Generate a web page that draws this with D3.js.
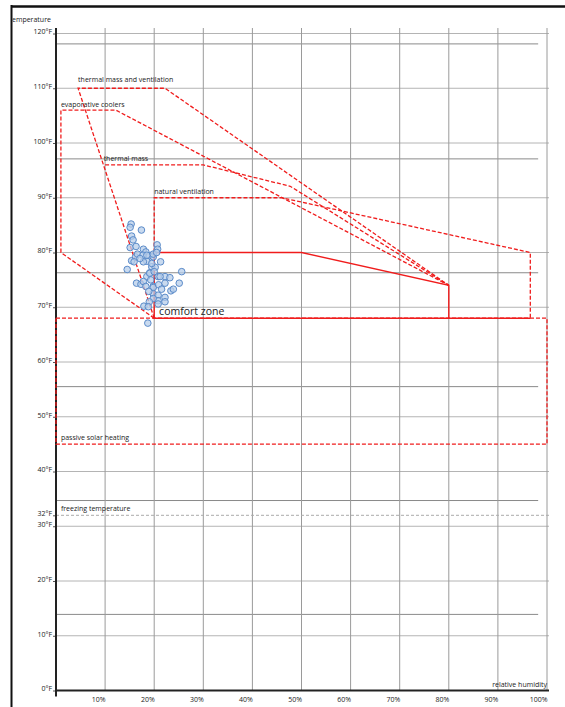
<!DOCTYPE html>
<html>
<meta charset="utf-8" />
<script src="https://d3js.org/d3.v7.min.js"></script>
<style>
  body { margin: 0; background: #fff; }
  svg { display: block; font-family: "Open Sans", "Liberation Sans", sans-serif; }
</style>
<body>
<svg width="565" height="707" id="chart"></svg>
<script>
  // axis ticks
  const tempTicks = [0, 10, 20, 30, 32, 40, 50, 60, 70, 80, 90, 100, 110, 120];
  const gridTemps = [10, 20, 30, 40, 50, 60, 70, 80, 90, 100, 110, 120];
  const rhTicks = [10, 20, 30, 40, 50, 60, 70, 80, 90, 100];
  // darker reference lines (°F)
  const refTemps = [118.1, 97.1, 76.3, 55.5, 34.7, 13.9];

  // zones as [RH %, °F]
  const comfortZone = [[20, 80], [50, 80], [80, 74], [80, 68], [20, 68], [20, 80]];
  const naturalVent = [[20, 80], [20, 90], [46, 90], [96.6, 80], [96.6, 68]];
  const naturalVentBase = [[80, 68], [96.6, 68]];
  const evapCoolers = [[20, 68], [1, 80], [1, 106], [12.2, 106], [80, 74]];
  const thermalMassVent = [[20, 68], [4.5, 110], [22.2, 110], [80, 74]];
  const thermalMass = [[10, 96], [30, 96], [47.7, 92.1], [80, 74]];
  const passiveSolar = [[0, 68], [100, 68], [100, 45], [0, 45], [0, 68]];

  // observed conditions [RH %, °F]
  const obsRH = [15.3, 15.1, 17.4, 15.4, 15.7, 15.1, 16.3, 17.8, 18.3, 20.6,
    20.7, 15.4, 16.2, 16.6, 17.7, 19.0, 19.8, 14.5, 15.9, 18.5,
    19.5, 20.2, 21.3, 25.6, 16.4, 17.3, 18.5, 19.1, 17.8, 20.8,
    22.2, 23.2, 22.2, 25.1, 23.4, 23.9, 19.8, 19.8, 20.8, 22.2,
    20.8, 22.2, 19.8, 19.0, 17.9, 20.8, 18.8, 18.7, 17.8, 18.5,
    19.8, 20.5, 19.5, 19.1, 20.0, 18.3, 19.8, 17.1, 21.2, 20.9,
    21.5, 19.3, 18.9];
  const obsF = [85.2, 84.6, 84.1, 83.0, 82.3, 80.9, 81.1, 80.6, 80.1, 81.4,
    80.6, 78.5, 79.2, 79.7, 79.5, 79.4, 79.2, 76.9, 78.3, 78.4,
    77.4, 77.3, 78.3, 76.5, 74.4, 74.2, 75.6, 76.3, 74.7, 75.6,
    75.6, 75.4, 74.4, 74.4, 73.0, 73.3, 73.8, 72.5, 72.2, 71.8,
    71.2, 71.0, 71.6, 71.0, 70.2, 70.6, 70.1, 67.1, 78.3, 79.5,
    79.7, 80.0, 78.0, 76.2, 76.5, 73.8, 73.6, 78.9, 75.6, 74.1,
    73.3, 75.0, 72.9];

  const sx = d3.scaleLinear().domain([0, 100]).range([56, 547]);
  const sy = d3.scaleLinear().domain([0, 120]).range([690.5, 33.5]);

  const svg = d3.select("#chart");

  // frame
  svg.append("line").attr("x1", 11).attr("x2", 565).attr("y1", 6.5).attr("y2", 6.5)
    .attr("stroke", "#111").attr("stroke-width", 2.5);
  svg.append("line").attr("x1", 11.5).attr("x2", 11.5).attr("y1", 5).attr("y2", 707)
    .attr("stroke", "#111").attr("stroke-width", 2);

  // grid
  svg.append("g").selectAll("line").data(gridTemps).join("line")
    .attr("x1", sx(0)).attr("x2", sx(100) + 2)
    .attr("y1", d => sy(d)).attr("y2", d => sy(d))
    .attr("stroke", "#b4b4b4").attr("stroke-width", 1);
  svg.append("g").selectAll("line").data(refTemps).join("line")
    .attr("x1", sx(0)).attr("x2", sx(98.2))
    .attr("y1", d => sy(d)).attr("y2", d => sy(d))
    .attr("stroke", "#8a8a8a").attr("stroke-width", 1);
  svg.append("g").selectAll("line").data(rhTicks).join("line")
    .attr("x1", d => sx(d)).attr("x2", d => sx(d))
    .attr("y1", sy(121)).attr("y2", sy(0))
    .attr("stroke", "#9a9a9a").attr("stroke-width", 1);
  // freezing
  svg.append("line").attr("x1", sx(0)).attr("x2", sx(100) + 2)
    .attr("y1", sy(32)).attr("y2", sy(32))
    .attr("stroke", "#aaa").attr("stroke-dasharray", "3,2");

  // axes
  const yAxis = svg.append("g").attr("transform", `translate(${sx(0)},0)`)
    .call(d3.axisLeft(sy).tickValues(tempTicks).tickSize(3).tickPadding(1)
      .tickFormat(d => d + "°F"));
  yAxis.select(".domain").remove();
  yAxis.selectAll("text").attr("dy", "0.05em").attr("font-size", 7).attr("fill", "#222")
    .attr("font-family", "Open Sans, sans-serif");
  yAxis.selectAll("line").attr("stroke", "#555");

  const xAxis = svg.append("g").attr("transform", `translate(0,${sy(0)})`)
    .call(d3.axisBottom(sx).tickValues(rhTicks).tickSize(0).tickFormat(d => d + "%"));
  xAxis.select(".domain").remove();
  xAxis.selectAll("text").attr("y", 11).attr("dy", 0).attr("text-anchor", "end")
    .attr("font-size", 7).attr("fill", "#222").attr("font-family", "Open Sans, sans-serif");

  svg.append("line").attr("x1", sx(0)).attr("x2", sx(0))
    .attr("y1", sy(121)).attr("y2", sy(0) + 6)
    .attr("stroke", "#222").attr("stroke-width", 2);
  svg.append("line").attr("x1", sx(0) - 1).attr("x2", sx(100) + 2)
    .attr("y1", sy(0)).attr("y2", sy(0))
    .attr("stroke", "#222").attr("stroke-width", 2);

  // zones
  const line = d3.line().x(d => sx(d[0])).y(d => sy(d[1]));
  const red = "#f01c1c";
  const dashed = [passiveSolar, evapCoolers, thermalMassVent, thermalMass, naturalVent];
  svg.append("g").selectAll("path").data(dashed).join("path")
    .attr("d", line).attr("fill", "none").attr("stroke", red)
    .attr("stroke-width", 1.3).attr("stroke-dasharray", "4,2");
  svg.append("g").selectAll("path").data([comfortZone, naturalVentBase]).join("path")
    .attr("d", line).attr("fill", "none").attr("stroke", red).attr("stroke-width", 1.4);

  // observations
  svg.append("g").selectAll("circle").data(obsRH).join("circle")
    .attr("cx", d => sx(d)).attr("cy", (d, i) => sy(obsF[i])).attr("r", 3.3)
    .attr("fill", "#b7cdea").attr("fill-opacity", 0.75)
    .attr("stroke", "#5b8bc9").attr("stroke-width", 1);

  // labels
  const labels = svg.append("g").attr("font-size", 7).attr("fill", "#222");
  labels.append("text").attr("x", sx(4.5)).attr("y", sy(110) - 6).text("thermal mass and ventilation");
  labels.append("text").attr("x", sx(1)).attr("y", sy(106) - 3).text("evaporative coolers");
  labels.append("text").attr("x", sx(9.7)).attr("y", sy(96) - 4).text("thermal mass");
  labels.append("text").attr("x", sx(20)).attr("y", sy(90) - 4).text("natural ventilation");
  labels.append("text").attr("x", sx(1)).attr("y", sy(45) - 4).text("passive solar heating");
  labels.append("text").attr("x", sx(1)).attr("y", sy(32) - 4).text("freezing temperature");
  labels.append("text").attr("x", sx(100)).attr("y", sy(0) - 4).attr("text-anchor", "end")
    .text("relative humidity");
  svg.append("text").attr("x", sx(21)).attr("y", sy(68) - 3).attr("font-size", 10.5)
    .attr("fill", "#222").text("comfort zone");

  svg.append("clipPath").attr("id", "frameClip").append("rect")
    .attr("x", 12.5).attr("y", 8).attr("width", 200).attr("height", 30);
  svg.append("text").attr("clip-path", "url(#frameClip)").attr("x", 9.5).attr("y", 22)
    .attr("font-size", 7).attr("fill", "#222").text("temperature");
</script>
</body>
</html>
